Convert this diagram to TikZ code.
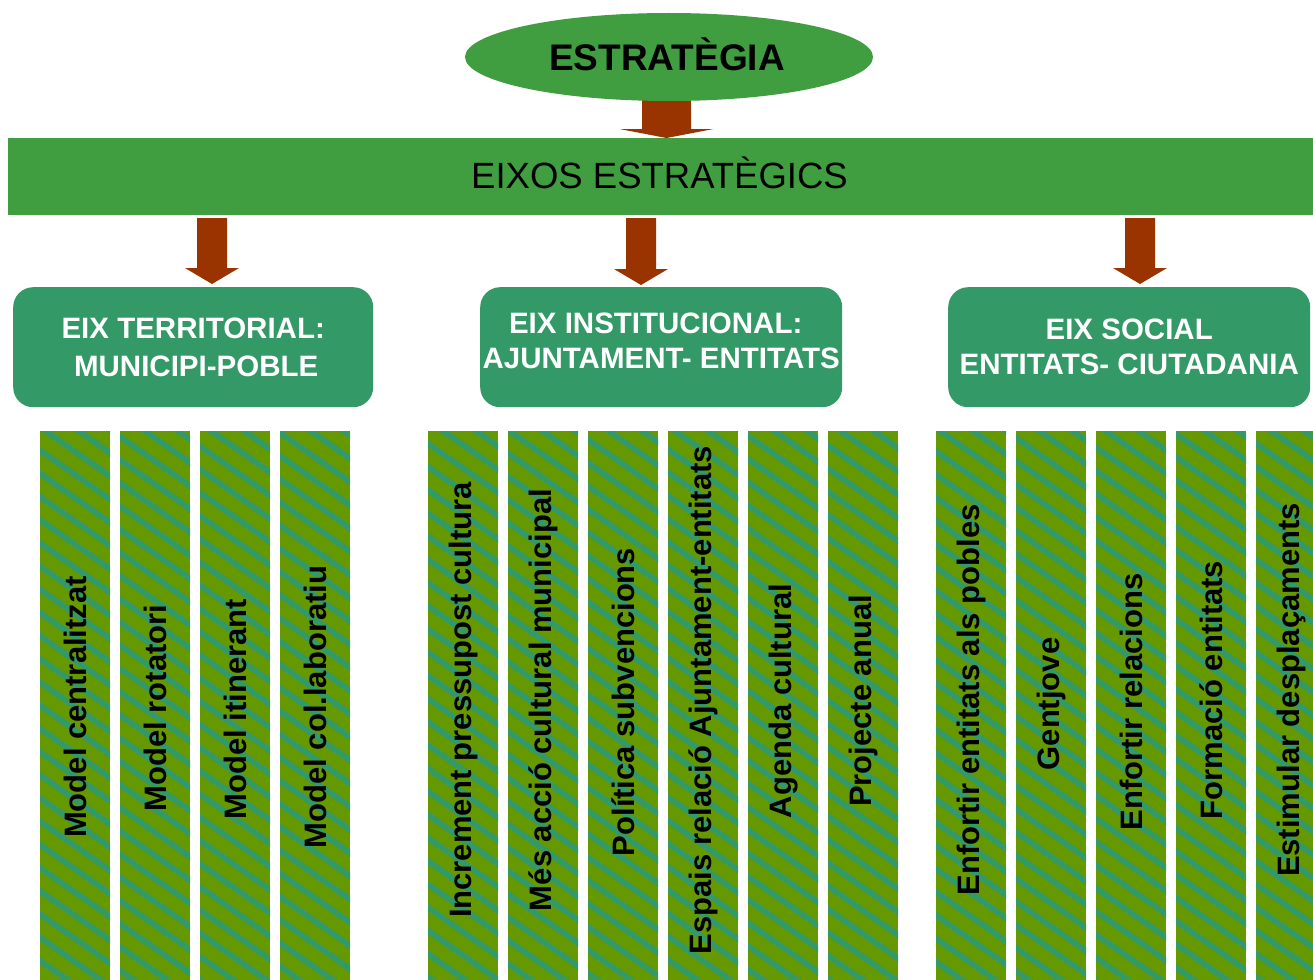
\documentclass[tikz,border=0pt]{standalone}
\usepackage{fontspec}
\setmainfont{Liberation Sans}
\usetikzlibrary{patterns.meta,calc,shapes.geometric}
\definecolor{ellg}{HTML}{409E40}
\definecolor{boxg}{HTML}{339966}
\definecolor{olivec}{HTML}{669900}
\definecolor{stripec}{HTML}{339966}
\definecolor{arrc}{HTML}{993300}
\tikzset{
  blockarrow/.style n args={3}{to path={let \p1=(\tikztostart), \p2=(\tikztotarget) in
     (\x1-#1,\y1) -- (\x1+#1,\y1) -- (\x1+#1,\y2+#3) -- (\x1+#2,\y2+#3) -- (\x1,\y2)
     -- (\x1-#2,\y2+#3) -- (\x1-#1,\y2+#3) -- cycle}},
  arrowfill/.style={fill=arrc, draw=none},
  col/.style={draw=none, fill=olivec, inner sep=0pt, anchor=north west,
     minimum width=70pt, minimum height=570pt,
     postaction={pattern={Lines[angle=-35,distance=19pt,line width=6pt]}, pattern color=stripec}},
  coltext/.style={rotate=90, inner sep=0pt, font=\bfseries\fontsize{31}{31}\selectfont, text=black},
  eix/.style={fill=boxg, draw=none, rounded corners=20pt, inner sep=0pt, anchor=north west,
     minimum width=360pt, minimum height=120pt},
  eixtxt/.style={anchor=base, inner sep=0pt, text=white, font=\bfseries\fontsize{29.5}{30}\selectfont},
}
\begin{document}
\begin{tikzpicture}[x=1pt,y=-1pt]
\useasboundingbox[fill=white] (0,0) rectangle (1313,979);
% top arrow (behind ellipse)
\coordinate (a0s) at (666.5,98);
\coordinate (a0e) at (666.5,138);
\path[arrowfill] (a0s) to[blockarrow={24.5pt}{47pt}{9pt}] (a0e);
% ellipse
\node[ellipse, fill=ellg, draw=none, minimum width=408pt, minimum height=88pt, inner sep=0pt] (est) at (669,57) {};
\node[anchor=base, inner sep=0pt, font=\bfseries\fontsize{37}{37}\selectfont] (estt) at (667,71) {ESTRATÈGIA};
% bar
\node[fill=ellg, draw=none, inner sep=0pt, anchor=north west, minimum width=1305pt, minimum height=77pt] (bar) at (8,138) {};
\node[anchor=base, inner sep=0pt, font=\fontsize{36.5}{37}\selectfont] (bart) at (659.5,188) {EIXOS ESTRATÈGICS};
% arrows to boxes
\coordinate (a1s) at (212,218); \coordinate (a1e) at (212,284);
\coordinate (a2s) at (641,218); \coordinate (a2e) at (641,285);
\coordinate (a3s) at (1140,218); \coordinate (a3e) at (1140,284);
\path[arrowfill] (a1s) to[blockarrow={15pt}{27pt}{16pt}] (a1e);
\path[arrowfill] (a2s) to[blockarrow={15pt}{27pt}{16pt}] (a2e);
\path[arrowfill] (a3s) to[blockarrow={15pt}{27pt}{16pt}] (a3e);
% boxes
\node[eix] (b1) at (13,287) {};
\node[eix, minimum width=362pt] (b2) at (480,287) {};
\node[eix, minimum width=362pt] (b3) at (948,287) {};
\node[eixtxt] (b1l1) at ($(b1.north)+(0,51)$) {EIX TERRITORIAL:};
\node[eixtxt] (b1l2) at ($(b1.north)+(3,89)$) {MUNICIPI-POBLE};
\node[eixtxt] (b2l1) at ($(b2.north)+(-5.5,46)$) {EIX INSTITUCIONAL:};
\node[eixtxt] (b2l2) at ($(b2.north)+(0,81)$) {AJUNTAMENT- ENTITATS};
\node[eixtxt] (b3l1) at ($(b3.north)+(0,52)$) {EIX SOCIAL};
\node[eixtxt] (b3l2) at ($(b3.north)+(0,87)$) {ENTITATS- CIUTADANIA};
% columns
\foreach \l/\n/\yy/\t in {
  40/1/707/Model centralitzat,
  120/2/708/Model rotatori,
  200/3/709/Model itinerant,
  280/4/707/Model col.laboratiu,
  428/5/700/Increment pressupost cultura,
  508/6/700/Més acció cultural municipal,
  588/7/702/Política subvencions,
  668/8/700/Espais relació Ajuntament-entitats,
  748/9/701/Agenda cultural,
  828/10/701/Projecte anual,
  936/11/700/Enfortir entitats als pobles,
  1016/12/704/Gentjove,
  1096/13/702/Enfortir relacions,
  1176/14/690/Formació entitats,
  1256/15/690/Estimular desplaçaments}{
  \node[col] (c\n) at (\l,431) {};
  \node[coltext] (t\n) at ($(c\n.north)+(0,\yy-431)$) {\t};
}
\end{tikzpicture}
\end{document}
